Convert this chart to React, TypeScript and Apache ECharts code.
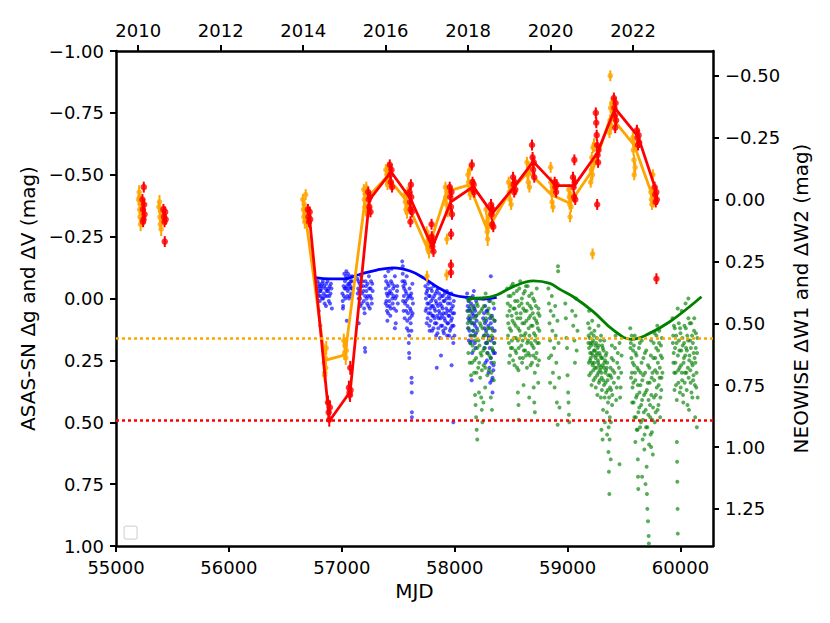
import React, { useEffect, useRef } from "react";
import * as echarts from "echarts";

// ---------- axis ticks ----------
const mjdTicks = [55000, 56000, 57000, 58000, 59000, 60000];
const yearTicks = [2010, 2012, 2014, 2016, 2018, 2020, 2022];
const leftTicks = [-1, -0.75, -0.5, -0.25, 0, 0.25, 0.5, 0.75, 1];
const rightTicks = [-0.5, -0.25, 0, 0.25, 0.5, 0.75, 1, 1.25];
const MJD_MIN = 55000;
const MJD_MAX = 60288;

// ---------- ASAS-SN points [MJD, mag, err] ----------
const orangePoints: number[][] = [
  [55200, -0.40, 0.022], [55205, -0.43, 0.028], [55210, -0.36, 0.022], [55212, -0.33, 0.022], [55216, -0.38, 0.022], [55218, -0.30, 0.028], [55222, -0.35, 0.022], [55226, -0.32, 0.022], [55208, -0.41, 0.022],
  [55380, -0.37, 0.022], [55385, -0.39, 0.028], [55389, -0.33, 0.022], [55393, -0.30, 0.022], [55396, -0.35, 0.022], [55400, -0.28, 0.028], [55404, -0.32, 0.022],
  [56655, -0.40, 0.022], [56660, -0.36, 0.022], [56664, -0.33, 0.022], [56668, -0.38, 0.022], [56672, -0.31, 0.028], [56676, -0.35, 0.022], [56680, -0.42, 0.022],
  [56840, 0.21, 0.028], [56845, 0.26, 0.028], [56848, 0.31, 0.028], [56850, 0.30, 0.028], [56854, 0.24, 0.028], [56858, 0.28, 0.028], [56862, 0.20, 0.028],
  [57018, 0.17, 0.028], [57024, 0.22, 0.028], [57030, 0.19, 0.028], [57035, 0.24, 0.028], [57040, 0.21, 0.028],
  [57195, -0.44, 0.022], [57200, -0.40, 0.022], [57205, -0.37, 0.022], [57209, -0.42, 0.022], [57213, -0.36, 0.028], [57217, -0.45, 0.022],
  [57390, -0.52, 0.022], [57395, -0.48, 0.022], [57400, -0.50, 0.022], [57405, -0.46, 0.022], [57410, -0.53, 0.022], [57414, -0.49, 0.022],
  [57558, -0.42, 0.022], [57563, -0.39, 0.022], [57568, -0.36, 0.022], [57573, -0.41, 0.022], [57578, -0.35, 0.028], [57582, -0.43, 0.022],
  [57752, -0.27, 0.022], [57757, -0.23, 0.022], [57762, -0.20, 0.022], [57767, -0.25, 0.022], [57772, -0.19, 0.028], [57776, -0.22, 0.022], [57755, -0.09, 0.022],
  [57918, -0.45, 0.022], [57923, -0.41, 0.022], [57928, -0.38, 0.022], [57933, -0.43, 0.022], [57938, -0.35, 0.022], [57931, -0.24, 0.022], [57929, -0.095, 0.022],
  [58118, -0.50, 0.022], [58123, -0.47, 0.022], [58128, -0.44, 0.022], [58133, -0.52, 0.022], [58138, -0.42, 0.022], [58142, -0.46, 0.022],
  [58278, -0.36, 0.022], [58283, -0.31, 0.028], [58288, -0.27, 0.028], [58292, -0.24, 0.028], [58296, -0.29, 0.022], [58300, -0.33, 0.022],
  [58478, -0.47, 0.022], [58484, -0.43, 0.022], [58490, -0.40, 0.022], [58495, -0.45, 0.022], [58500, -0.38, 0.022],
  [58640, -0.55, 0.022], [58646, -0.50, 0.022], [58652, -0.47, 0.022], [58657, -0.53, 0.022], [58662, -0.45, 0.022],
  [58850, -0.53, 0.022], [58852, -0.47, 0.022], [58857, -0.43, 0.022], [58862, -0.39, 0.022], [58866, -0.45, 0.022], [58870, -0.37, 0.022],
  [59010, -0.44, 0.022], [59015, -0.41, 0.022], [59020, -0.38, 0.022], [59025, -0.42, 0.022], [59030, -0.37, 0.022], [59022, -0.33, 0.022],
  [59205, -0.47, 0.022], [59210, -0.52, 0.022], [59215, -0.57, 0.022], [59220, -0.50, 0.022], [59225, -0.61, 0.022], [59230, -0.55, 0.022], [59234, -0.62, 0.028], [59221, -0.18, 0.022],
  [59371, -0.67, 0.022], [59376, -0.72, 0.022], [59381, -0.77, 0.022], [59386, -0.70, 0.022], [59391, -0.79, 0.022], [59395, -0.74, 0.022], [59378, -0.90, 0.022],
  [59578, -0.65, 0.022], [59583, -0.60, 0.022], [59588, -0.56, 0.022], [59593, -0.62, 0.022], [59598, -0.53, 0.022], [59590, -0.50, 0.022],
  [59738, -0.43, 0.022], [59743, -0.40, 0.022], [59748, -0.38, 0.022], [59753, -0.42, 0.022], [59758, -0.39, 0.022], [59755, -0.50, 0.022],
];

const redPoints: number[][] = [
  [55234, -0.40, 0.022], [55239, -0.36, 0.022], [55244, -0.32, 0.022], [55249, -0.38, 0.022], [55253, -0.34, 0.022], [55246, -0.45, 0.022], [55240, -0.31, 0.022],
  [55420, -0.36, 0.022], [55425, -0.33, 0.022], [55430, -0.31, 0.022], [55435, -0.35, 0.022], [55440, -0.32, 0.022], [55432, -0.23, 0.022],
  [56700, -0.36, 0.022], [56705, -0.33, 0.022], [56710, -0.31, 0.022], [56715, -0.35, 0.022], [56720, -0.32, 0.022],
  [56878, 0.42, 0.028], [56884, 0.46, 0.028], [56889, 0.49, 0.028], [56894, 0.44, 0.028],
  [57063, 0.36, 0.028], [57068, 0.38, 0.028], [57073, 0.39, 0.028], [57078, 0.37, 0.028], [57075, 0.28, 0.028],
  [57234, -0.43, 0.022], [57239, -0.40, 0.022], [57244, -0.37, 0.022], [57249, -0.41, 0.022], [57254, -0.35, 0.022],
  [57425, -0.54, 0.022], [57430, -0.50, 0.022], [57435, -0.47, 0.022], [57440, -0.52, 0.022], [57445, -0.45, 0.022],
  [57600, -0.43, 0.022], [57605, -0.39, 0.022], [57610, -0.36, 0.022], [57615, -0.41, 0.022], [57620, -0.35, 0.022], [57612, -0.46, 0.022], [57608, -0.31, 0.022],
  [57795, -0.30, 0.022], [57797, -0.25, 0.022], [57802, -0.21, 0.022], [57807, -0.23, 0.022], [57812, -0.19, 0.022],
  [57956, -0.45, 0.022], [57961, -0.41, 0.022], [57966, -0.37, 0.022], [57971, -0.43, 0.022], [57976, -0.34, 0.022], [57968, -0.26, 0.022], [57967, -0.135, 0.022], [57967, -0.105, 0.022],
  [58152, -0.54, 0.022], [58158, -0.47, 0.022], [58163, -0.44, 0.022], [58168, -0.46, 0.022], [58173, -0.43, 0.022],
  [58322, -0.38, 0.022], [58327, -0.34, 0.022], [58332, -0.30, 0.022], [58337, -0.36, 0.022], [58342, -0.29, 0.022],
  [58517, -0.49, 0.022], [58522, -0.46, 0.022], [58527, -0.43, 0.022], [58532, -0.47, 0.022], [58537, -0.44, 0.022],
  [58685, -0.62, 0.022], [58690, -0.57, 0.022], [58695, -0.52, 0.022], [58700, -0.55, 0.022], [58705, -0.49, 0.022],
  [58886, -0.47, 0.022], [58892, -0.45, 0.022], [58898, -0.43, 0.022], [58903, -0.46, 0.022],
  [59048, -0.49, 0.022], [59053, -0.45, 0.022], [59058, -0.41, 0.022], [59063, -0.47, 0.022], [59068, -0.40, 0.022], [59060, -0.56, 0.022],
  [59250, -0.75, 0.022], [59254, -0.71, 0.022], [59258, -0.66, 0.022], [59262, -0.62, 0.022], [59266, -0.58, 0.022], [59270, -0.55, 0.022], [59274, -0.60, 0.022], [59262, -0.38, 0.022],
  [59410, -0.81, 0.022], [59415, -0.77, 0.022], [59420, -0.74, 0.022], [59425, -0.79, 0.022], [59430, -0.72, 0.022], [59422, -0.69, 0.022],
  [59614, -0.68, 0.022], [59619, -0.65, 0.022], [59624, -0.62, 0.022], [59629, -0.66, 0.022], [59634, -0.63, 0.022],
  [59771, -0.45, 0.022], [59776, -0.42, 0.022], [59781, -0.39, 0.022], [59786, -0.43, 0.022], [59791, -0.40, 0.022], [59787, -0.08, 0.022],
];

// ---------- ASAS-SN seasonal trends [MJD, mag] ----------
const orangeTrend: number[][] = [
  [56670, -0.36], [56851, 0.25], [57029, 0.228], [57206, -0.398], [57401, -0.492], [57569, -0.398], [57764, -0.196],
  [57929, -0.432], [58129, -0.459], [58289, -0.277], [58490, -0.432], [58652, -0.512], [58859, -0.418], [59021, -0.385],
  [59221, -0.519], [59383, -0.735], [59590, -0.62], [59749, -0.418],
];
const redTrend: number[][] = [
  [56711, -0.34], [56890, 0.495], [57074, 0.377], [57244, -0.398], [57436, -0.512], [57611, -0.401], [57802, -0.208],
  [57967, -0.391], [58165, -0.452], [58333, -0.344], [58528, -0.452], [58696, -0.553], [58897, -0.456], [59059, -0.456],
  [59262, -0.587], [59421, -0.768], [59625, -0.654], [59782, -0.438],
];

// reference (quiescent) levels, left axis
const orangeLevel = 0.164;
const redLevel = 0.491;

// ---------- NEOWISE dots [MJD, mag] (right axis) ----------
const blueDots: number[][] = [
  [56785, 0.33], [56790, 0.36], [56795, 0.39], [56800, 0.34], [56805, 0.41], [56812, 0.37], [56818, 0.35], [56825, 0.40], [56832, 0.33], [56840, 0.38],
  [56848, 0.42], [56855, 0.36], [56862, 0.34], [56870, 0.39], [56878, 0.37], [56885, 0.41], [56892, 0.35], [56900, 0.38], [56908, 0.36], [56912, 0.44],
  [56796, 0.45], [56860, 0.43], [56810, 0.51],
  [56788, 0.38], [56798, 0.35], [56808, 0.37], [56815, 0.39], [56822, 0.36], [56828, 0.34], [56836, 0.40], [56844, 0.35], [56852, 0.39], [56866, 0.37],
  [56874, 0.33], [56882, 0.36], [56890, 0.39], [56896, 0.42], [56904, 0.34],
  [57005, 0.38], [57008, 0.41], [57010, 0.44], [57012, 0.43], [57015, 0.35], [57022, 0.30], [57028, 0.33], [57034, 0.36], [57040, 0.29], [57046, 0.32],
  [57052, 0.37], [57058, 0.34], [57064, 0.40], [57070, 0.31], [57076, 0.35], [57082, 0.38], [57088, 0.33], [57095, 0.36], [57044, 0.49],
  [57018, 0.39], [57025, 0.36], [57031, 0.40], [57037, 0.31], [57043, 0.35], [57049, 0.39], [57055, 0.30], [57061, 0.36], [57067, 0.34], [57073, 0.39],
  [57079, 0.33], [57085, 0.36], [57092, 0.31],
  [57138, 0.32], [57145, 0.36], [57150, 0.40], [57158, 0.34], [57165, 0.43], [57172, 0.31], [57180, 0.38], [57188, 0.35], [57195, 0.41], [57202, 0.46],
  [57210, 0.33], [57218, 0.37], [57225, 0.42], [57232, 0.39], [57240, 0.31], [57248, 0.44], [57255, 0.36], [57262, 0.40], [57270, 0.34], [57150, 0.50],
  [57205, 0.60], [57207, 0.615],
  [57141, 0.38], [57148, 0.33], [57155, 0.37], [57162, 0.40], [57168, 0.35], [57176, 0.42], [57184, 0.33], [57191, 0.37], [57198, 0.44], [57206, 0.39],
  [57214, 0.35], [57221, 0.40], [57229, 0.34], [57236, 0.43], [57244, 0.36], [57252, 0.39], [57259, 0.33], [57266, 0.42], [57273, 0.37],
  [57385, 0.31], [57390, 0.36], [57395, 0.41], [57400, 0.45], [57404, 0.49], [57408, 0.34], [57412, 0.29], [57418, 0.38], [57424, 0.43], [57430, 0.47],
  [57436, 0.33], [57442, 0.28], [57448, 0.40], [57455, 0.36], [57462, 0.44], [57470, 0.31], [57478, 0.50], [57485, 0.39], [57492, 0.35], [57470, 0.52],
  [57388, 0.42], [57393, 0.33], [57398, 0.38], [57402, 0.43], [57406, 0.39], [57410, 0.46], [57415, 0.35], [57421, 0.41], [57427, 0.37], [57433, 0.44],
  [57439, 0.38], [57445, 0.34], [57451, 0.42], [57458, 0.39], [57466, 0.35], [57474, 0.40], [57482, 0.45], [57489, 0.37], [57496, 0.42],
  [57535, 0.25], [57540, 0.30], [57545, 0.35], [57550, 0.39], [57555, 0.33], [57560, 0.42], [57565, 0.37], [57570, 0.45], [57575, 0.31], [57580, 0.49],
  [57585, 0.40], [57590, 0.53], [57593, 0.58], [57596, 0.62], [57598, 0.64], [57600, 0.36], [57605, 0.44], [57610, 0.50], [57615, 0.38], [57620, 0.47],
  [57625, 0.34], [57630, 0.42], [57540, 0.27], [57618, 0.72], [57619, 0.74], [57620, 0.78], [57621, 0.86], [57621, 0.88],
  [57537, 0.33], [57542, 0.41], [57547, 0.45], [57552, 0.36], [57557, 0.48], [57562, 0.34], [57567, 0.41], [57572, 0.38], [57577, 0.52], [57582, 0.43],
  [57587, 0.46], [57592, 0.39], [57597, 0.55], [57602, 0.48], [57607, 0.39], [57612, 0.45], [57617, 0.53], [57622, 0.40], [57627, 0.46],
  [57740, 0.35], [57745, 0.40], [57750, 0.44], [57755, 0.37], [57760, 0.48], [57765, 0.34], [57770, 0.42], [57775, 0.51], [57780, 0.39], [57785, 0.46],
  [57790, 0.36], [57795, 0.43], [57800, 0.53], [57805, 0.40], [57810, 0.47], [57815, 0.35], [57820, 0.44], [57825, 0.50], [57830, 0.38], [57835, 0.55],
  [57840, 0.42], [57845, 0.47], [57850, 0.36], [57855, 0.52], [57860, 0.45], [57865, 0.40], [57870, 0.56], [57875, 0.48], [57841, 0.68], [57885, 0.43],
  [57890, 0.51], [57895, 0.39], [57900, 0.46], [57905, 0.54], [57910, 0.41], [57915, 0.49], [57879, 0.63], [57925, 0.44], [57930, 0.37], [57935, 0.50],
  [57940, 0.42], [57945, 0.47], [57950, 0.55], [57955, 0.40], [57960, 0.45], [57965, 0.52], [57970, 0.38], [57975, 0.48], [57980, 0.56], [57985, 0.43],
  [57990, 0.51], [57995, 0.46], [57973, 0.67], [57988, 0.90],
  [57742, 0.45], [57748, 0.38], [57752, 0.50], [57758, 0.42], [57762, 0.36], [57768, 0.46], [57772, 0.39], [57778, 0.53], [57782, 0.44], [57788, 0.49],
  [57792, 0.41], [57798, 0.37], [57802, 0.47], [57808, 0.43], [57812, 0.52], [57818, 0.39], [57822, 0.48], [57828, 0.45], [57832, 0.41], [57838, 0.50],
  [57842, 0.37], [57848, 0.54], [57852, 0.43], [57858, 0.48], [57862, 0.38], [57868, 0.46], [57872, 0.42], [57878, 0.51], [57882, 0.39], [57888, 0.47],
  [57892, 0.44], [57898, 0.53], [57902, 0.41], [57908, 0.48], [57912, 0.38], [57918, 0.52], [57922, 0.46], [57928, 0.40], [57932, 0.55], [57938, 0.45],
  [57942, 0.50], [57948, 0.39], [57952, 0.47], [57958, 0.53], [57962, 0.42], [57968, 0.49], [57972, 0.44], [57978, 0.51], [57982, 0.46], [57988, 0.58],
  [57992, 0.41], [57998, 0.55],
  [58110, 0.38], [58115, 0.43], [58120, 0.48], [58125, 0.40], [58130, 0.53], [58135, 0.45], [58140, 0.58], [58145, 0.42], [58150, 0.50], [58155, 0.62],
  [58160, 0.39], [58165, 0.47], [58170, 0.55], [58175, 0.44], [58180, 0.51], [58185, 0.60], [58190, 0.41], [58195, 0.49], [58150, 0.73], [58125, 0.57],
  [58170, 0.37],
  [58112, 0.45], [58118, 0.52], [58122, 0.41], [58128, 0.49], [58132, 0.44], [58138, 0.55], [58142, 0.48], [58148, 0.40], [58152, 0.57], [58158, 0.46],
  [58162, 0.53], [58168, 0.43], [58172, 0.50], [58178, 0.58], [58182, 0.45], [58188, 0.54], [58192, 0.47], [58197, 0.52],
  [58255, 0.40], [58260, 0.46], [58265, 0.52], [58270, 0.43], [58275, 0.58], [58280, 0.49], [58285, 0.65], [58290, 0.45], [58295, 0.55], [58300, 0.70],
  [58305, 0.41], [58310, 0.60], [58315, 0.74], [58320, 0.50], [58325, 0.66], [58330, 0.47], [58335, 0.78], [58340, 0.56], [58345, 0.62], [58350, 0.44],
  [58355, 0.53], [58320, 0.31], [58335, 0.72], [58342, 0.69],
  [58252, 0.48], [58258, 0.55], [58262, 0.60], [58268, 0.50], [58272, 0.66], [58278, 0.53], [58282, 0.45], [58288, 0.58], [58292, 0.62], [58298, 0.51],
  [58302, 0.56], [58308, 0.68], [58312, 0.48], [58318, 0.64], [58322, 0.57], [58328, 0.73], [58332, 0.52], [58338, 0.61], [58344, 0.67], [58348, 0.58],
  [58352, 0.49], [58357, 0.62],
];

const greenDots: number[][] = [
  [58112, 0.40], [58118, 0.45], [58124, 0.52], [58130, 0.47], [58136, 0.58], [58142, 0.43], [58148, 0.55], [58154, 0.66], [58160, 0.50], [58166, 0.61],
  [58172, 0.70], [58178, 0.48], [58184, 0.57], [58190, 0.64], [58196, 0.42], [58202, 0.53], [58208, 0.68], [58214, 0.46], [58220, 0.59], [58226, 0.72],
  [58232, 0.51], [58238, 0.63], [58244, 0.44], [58250, 0.56], [58256, 0.67], [58262, 0.49], [58268, 0.60], [58274, 0.38], [58280, 0.54], [58286, 0.62],
  [58292, 0.46], [58298, 0.57], [58304, 0.69], [58310, 0.52], [58316, 0.41], [58322, 0.64], [58328, 0.55], [58334, 0.48], [58340, 0.61], [58346, 0.73],
  [58352, 0.58], [58180, 0.79], [58185, 0.83], [58190, 0.88], [58195, 0.93], [58200, 0.97], [58235, 0.80], [58240, 0.85], [58245, 0.90], [58255, 0.82],
  [58215, 0.78], [58270, 0.76], [58320, 0.80], [58330, 0.85],
  [58115, 0.50], [58121, 0.62], [58127, 0.41], [58133, 0.66], [58139, 0.49], [58145, 0.71], [58151, 0.45], [58157, 0.59], [58163, 0.53], [58169, 0.44],
  [58175, 0.65], [58181, 0.55], [58187, 0.47], [58193, 0.70], [58199, 0.60], [58205, 0.43], [58211, 0.57], [58217, 0.66], [58223, 0.50], [58229, 0.62],
  [58235, 0.45], [58241, 0.69], [58247, 0.52], [58253, 0.61], [58259, 0.43], [58265, 0.55], [58271, 0.68], [58277, 0.48], [58283, 0.58], [58289, 0.71],
  [58295, 0.52], [58301, 0.44], [58307, 0.63], [58313, 0.56], [58319, 0.47], [58325, 0.70], [58331, 0.60], [58337, 0.53], [58343, 0.42], [58349, 0.66],
  [58355, 0.49],
  [58465, 0.36], [58470, 0.42], [58475, 0.50], [58480, 0.58], [58485, 0.45], [58490, 0.63], [58495, 0.39], [58500, 0.53], [58505, 0.47], [58510, 0.60],
  [58515, 0.34], [58520, 0.44], [58525, 0.56], [58530, 0.67], [58535, 0.41], [58540, 0.51], [58545, 0.62], [58550, 0.37], [58555, 0.48], [58560, 0.57],
  [58565, 0.69], [58570, 0.43], [58575, 0.53], [58580, 0.33], [58585, 0.46], [58590, 0.59], [58595, 0.40], [58600, 0.50], [58605, 0.64], [58610, 0.38],
  [58615, 0.55], [58620, 0.45], [58625, 0.61], [58630, 0.35], [58635, 0.49], [58640, 0.68], [58645, 0.42], [58650, 0.57], [58655, 0.52], [58660, 0.39],
  [58665, 0.63], [58670, 0.47], [58675, 0.58], [58680, 0.44], [58685, 0.66], [58690, 0.51], [58695, 0.40], [58700, 0.60], [58705, 0.48], [58710, 0.70],
  [58715, 0.55], [58720, 0.43], [58725, 0.62], [58730, 0.50], [58735, 0.67], [58740, 0.46], [58745, 0.58], [58750, 0.53],
  [58560, 0.78], [58565, 0.83], [58568, 0.89], [58610, 0.75], [58660, 0.80], [58700, 0.76], [58705, 0.82], [58710, 0.86], [58740, 0.74],
  [58467, 0.47], [58472, 0.55], [58477, 0.39], [58482, 0.66], [58487, 0.52], [58492, 0.43], [58497, 0.60], [58502, 0.35], [58507, 0.57], [58512, 0.49],
  [58517, 0.65], [58522, 0.38], [58527, 0.50], [58532, 0.44], [58537, 0.61], [58542, 0.56], [58547, 0.46], [58552, 0.68], [58557, 0.41], [58562, 0.52],
  [58567, 0.60], [58572, 0.36], [58577, 0.64], [58582, 0.48], [58587, 0.55], [58592, 0.42], [58597, 0.66], [58602, 0.57], [58607, 0.44], [58612, 0.61],
  [58617, 0.50], [58622, 0.37], [58627, 0.54], [58632, 0.63], [58637, 0.45], [58642, 0.58], [58647, 0.35], [58652, 0.62], [58657, 0.48], [58662, 0.55],
  [58667, 0.43], [58672, 0.67], [58677, 0.51], [58682, 0.38], [58687, 0.59], [58692, 0.46], [58697, 0.63], [58702, 0.54], [58707, 0.41], [58712, 0.57],
  [58717, 0.64], [58722, 0.49], [58727, 0.36], [58732, 0.58], [58737, 0.52], [58742, 0.44], [58747, 0.65], [58752, 0.47],
  [58830, 0.36], [58835, 0.42], [58840, 0.50], [58845, 0.57], [58850, 0.45], [58855, 0.63], [58860, 0.39], [58865, 0.53], [58870, 0.70], [58875, 0.47],
  [58880, 0.60], [58885, 0.76], [58890, 0.43], [58895, 0.55], [58900, 0.66], [58905, 0.82], [58910, 0.49], [58915, 0.27], [58916, 0.29], [58920, 0.58],
  [58925, 0.72], [58928, 0.84], [58912, 0.91], [58845, 0.74], [58835, 0.64],
  [58980, 0.42], [58985, 0.48], [58990, 0.56], [58995, 0.60], [59000, 0.71], [59005, 0.78], [59008, 0.82], [59012, 0.87], [59015, 0.90], [59040, 0.45],
  [59050, 0.51], [59060, 0.57], [59070, 0.47], [59080, 0.61], [59088, 0.53], [59075, 0.40], [59065, 0.66],
  [59182, 0.50], [59186, 0.55], [59190, 0.60], [59194, 0.52], [59198, 0.65], [59202, 0.58], [59206, 0.70], [59210, 0.54], [59214, 0.62], [59218, 0.49],
  [59222, 0.67], [59226, 0.57], [59230, 0.73], [59234, 0.61], [59238, 0.53], [59242, 0.68], [59246, 0.59], [59250, 0.76], [59254, 0.63], [59258, 0.56],
  [59262, 0.71], [59266, 0.60], [59270, 0.66], [59274, 0.51], [59278, 0.74], [59282, 0.62], [59286, 0.69], [59290, 0.57], [59294, 0.80], [59298, 0.64],
  [59302, 0.72], [59306, 0.59], [59310, 0.67], [59314, 0.85], [59318, 0.61], [59322, 0.75], [59326, 0.66], [59330, 0.90], [59334, 0.70], [59338, 0.63],
  [59342, 0.78], [59346, 0.68], [59350, 0.95], [59354, 0.73], [59358, 0.82], [59362, 1.02], [59366, 1.10], [59370, 1.19], [59374, 0.88], [59378, 0.71],
  [59382, 1.05], [59386, 0.77], [59390, 0.64], [59394, 0.83], [59400, 0.69], [59410, 0.74], [59420, 0.60], [59430, 0.81], [59440, 0.66], [59450, 0.72],
  [59460, 0.58], [59470, 0.76], [59478, 0.63], [59190, 0.45], [59460, 1.07], [59300, 0.93], [59310, 0.97],
  [59184, 0.58], [59188, 0.66], [59192, 0.71], [59196, 0.56], [59200, 0.62], [59204, 0.64], [59208, 0.59], [59212, 0.75], [59216, 0.66], [59220, 0.58],
  [59224, 0.63], [59228, 0.69], [59232, 0.55], [59236, 0.66], [59240, 0.61], [59244, 0.72], [59248, 0.64], [59252, 0.58], [59256, 0.68], [59260, 0.62],
  [59264, 0.79], [59268, 0.65], [59272, 0.70], [59276, 0.59], [59280, 0.67], [59284, 0.73], [59288, 0.63], [59292, 0.68], [59296, 0.55], [59300, 0.70],
  [59304, 0.77], [59308, 0.64], [59312, 0.60], [59316, 0.73], [59320, 0.68], [59324, 0.57], [59328, 0.80], [59332, 0.65], [59336, 0.74], [59340, 0.69],
  [59344, 0.62], [59348, 0.86], [59352, 0.66], [59356, 0.77], [59360, 0.71], [59364, 0.92], [59368, 0.80], [59372, 0.97], [59376, 0.76], [59380, 0.68],
  [59384, 0.90], [59388, 0.72], [59392, 0.59], [59396, 0.79], [59405, 0.65], [59415, 0.70], [59425, 0.55], [59435, 0.76], [59445, 0.62], [59455, 0.68],
  [59465, 0.80], [59475, 0.70],
  [59555, 0.52], [59560, 0.58], [59565, 0.64], [59570, 0.70], [59575, 0.76], [59580, 0.61], [59585, 0.82], [59590, 0.67], [59595, 0.55], [59600, 0.73],
  [59605, 0.88], [59610, 0.63], [59615, 0.79], [59620, 0.93], [59622, 1.05], [59624, 1.12], [59626, 1.17], [59630, 0.69], [59635, 0.84], [59640, 0.58],
  [59645, 0.75], [59650, 0.90], [59655, 0.66], [59660, 0.81], [59665, 0.97], [59670, 0.71], [59675, 0.86], [59680, 1.01], [59685, 0.62], [59690, 0.78],
  [59695, 0.92], [59700, 1.08], [59703, 1.19], [59706, 1.25], [59710, 0.74], [59712, 1.30], [59715, 0.87], [59718, 1.36], [59720, 1.39], [59725, 0.68],
  [59730, 0.83], [59735, 0.95], [59740, 0.57], [59745, 0.72], [59750, 0.89], [59755, 1.03], [59760, 0.64], [59765, 0.80], [59770, 0.54], [59775, 0.69],
  [59780, 0.86], [59785, 0.60], [59790, 0.76], [59795, 0.51], [59800, 0.66], [59805, 0.83], [59810, 0.58], [59815, 0.72], [59820, 0.88], [59825, 0.63],
  [59830, 0.77], [59835, 0.56], [59840, 0.70], [59600, 0.98], [59660, 1.12], [59690, 1.15], [59740, 1.00],
  [59557, 0.60], [59562, 0.72], [59567, 0.55], [59572, 0.82], [59577, 0.66], [59582, 0.74], [59587, 0.59], [59592, 0.88], [59597, 0.70], [59602, 0.62],
  [59607, 0.80], [59612, 0.93], [59617, 0.68], [59622, 0.75], [59627, 0.86], [59632, 0.60], [59637, 0.78], [59642, 0.92], [59647, 0.70], [59652, 0.83],
  [59657, 0.57], [59662, 0.73], [59667, 0.89], [59672, 0.64], [59677, 0.79], [59682, 0.95], [59687, 0.70], [59692, 0.85], [59697, 0.61], [59702, 0.77],
  [59707, 0.92], [59712, 0.67], [59717, 0.81], [59722, 0.99], [59727, 0.74], [59732, 0.88], [59737, 0.63], [59742, 0.79], [59747, 0.94], [59752, 0.70],
  [59757, 0.84], [59762, 0.58], [59767, 0.73], [59772, 0.90], [59777, 0.64], [59782, 0.79], [59787, 0.55], [59792, 0.70], [59797, 0.85], [59802, 0.61],
  [59807, 0.75], [59812, 0.53], [59817, 0.68], [59822, 0.80], [59827, 0.59], [59832, 0.72], [59837, 0.64],
  [59930, 0.48], [59935, 0.55], [59940, 0.62], [59945, 0.70], [59950, 0.52], [59955, 0.66], [59960, 0.75], [59965, 0.58], [59968, 0.98], [59970, 1.06],
  [59972, 1.14], [59974, 1.25], [59976, 1.35], [59980, 0.69], [59985, 0.50], [59990, 0.61], [59995, 0.78], [60000, 0.54], [60005, 0.67], [60010, 0.45],
  [60015, 0.73], [60020, 0.59], [60025, 0.82], [60030, 0.64], [60035, 0.51], [60040, 0.70], [60045, 0.42], [60050, 0.60], [60055, 0.77], [60060, 0.55],
  [60065, 0.68], [60070, 0.48], [60075, 0.85], [60080, 0.63], [60085, 0.57], [60090, 0.74], [60095, 0.50], [60100, 0.66], [60105, 0.80], [60110, 0.58],
  [60115, 0.71], [60120, 0.53], [60125, 0.64], [60130, 0.88], [60135, 0.60], [60140, 0.76], [60145, 0.92], [60150, 0.56], [59975, 0.44], [60070, 0.40],
  [59932, 0.58], [59937, 0.66], [59942, 0.51], [59947, 0.77], [59952, 0.60], [59957, 0.70], [59962, 0.55], [59967, 0.81], [59977, 0.63], [59982, 0.74],
  [59987, 0.57], [59992, 0.68], [59997, 0.52], [60002, 0.76], [60007, 0.61], [60012, 0.70], [60017, 0.56], [60022, 0.79], [60027, 0.66], [60032, 0.58],
  [60037, 0.74], [60042, 0.63], [60047, 0.52], [60052, 0.70], [60057, 0.61], [60062, 0.83], [60067, 0.57], [60072, 0.72], [60077, 0.65], [60082, 0.50],
  [60087, 0.69], [60092, 0.60], [60097, 0.78], [60102, 0.55], [60107, 0.67], [60112, 0.73], [60117, 0.62], [60122, 0.48], [60127, 0.75], [60132, 0.66],
  [60137, 0.54], [60142, 0.70], [60147, 0.62], [60152, 0.80],
];

// ---------- NEOWISE fitted curves [MJD, mag] ----------
const blueFit: number[][] = [
  [56763, 0.316], [56897, 0.321], [57014, 0.321], [57162, 0.302], [57310, 0.285], [57457, 0.276], [57605, 0.289],
  [57722, 0.316], [57841, 0.352], [57988, 0.386], [58135, 0.397], [58253, 0.402], [58372, 0.395],
];
const greenFit: number[][] = [
  [58110, 0.400], [58250, 0.398], [58372, 0.386], [58519, 0.352], [58696, 0.329], [58843, 0.339], [58932, 0.363],
  [59050, 0.393], [59227, 0.453], [59404, 0.527], [59566, 0.565], [59699, 0.547], [59905, 0.494], [60186, 0.393],
];

const FONT = "DejaVu Sans";
const fmt = (v: number) => (v < 0 ? "\u2212" : "") + Math.abs(v).toFixed(2);
const yearOf = (mjd: number) => 2000 + (mjd - 51544.5) / 365.25;

function errorBars(points: number[][], color: string, width: number, z: number) {
  return {
    type: "custom",
    xAxisIndex: 0,
    yAxisIndex: 0,
    data: points,
    encode: { x: 0, y: 1 },
    z,
    silent: true,
    renderItem: (_params: any, api: any) => {
      const x = api.value(0);
      const y = api.value(1);
      const e = api.value(2);
      const p1 = api.coord([x, y - e]);
      const p2 = api.coord([x, y + e]);
      return {
        type: "line",
        shape: { x1: p1[0], y1: p1[1], x2: p2[0], y2: p2[1] },
        style: { stroke: color, lineWidth: width },
      };
    },
  };
}

const axisCommon = {
  axisLine: { show: true, onZero: false, lineStyle: { color: "#000", width: 2.5 } },
  axisTick: { show: true, inside: false, length: 6, lineStyle: { color: "#000", width: 2 } },
  splitLine: { show: false },
};
const tickLabel = { margin: 12, fontSize: 18, color: "#000", fontFamily: FONT };
const nameStyle = { fontSize: 20, color: "#000", fontFamily: FONT };

export default function App() {
  const ref = useRef<HTMLDivElement>(null);
  useEffect(() => {
    if (!ref.current) return;
    const chart = echarts.init(ref.current, null, { renderer: "svg" });
    const option: any = {
      animation: false,
      backgroundColor: "#ffffff",
      textStyle: { fontFamily: FONT },
      grid: { left: 116, top: 51, width: 597, height: 495, containLabel: false },
      xAxis: [
        {
          type: "value",
          position: "bottom",
          min: MJD_MIN,
          max: MJD_MAX,
          ...axisCommon,
          axisTick: { ...axisCommon.axisTick, customValues: mjdTicks },
          axisLabel: { ...tickLabel, customValues: mjdTicks, formatter: (v: number) => String(Math.round(v)) },
          name: "MJD",
          nameLocation: "middle",
          nameGap: 35,
          nameTextStyle: nameStyle,
        },
        {
          type: "value",
          position: "top",
          min: yearOf(MJD_MIN),
          max: yearOf(MJD_MAX),
          ...axisCommon,
          axisTick: { ...axisCommon.axisTick, customValues: yearTicks },
          axisLabel: { ...tickLabel, customValues: yearTicks, formatter: (v: number) => String(Math.round(v)) },
        },
      ],
      yAxis: [
        {
          type: "value",
          position: "left",
          inverse: true,
          min: -1,
          max: 1,
          ...axisCommon,
          axisTick: { ...axisCommon.axisTick, customValues: leftTicks },
          axisLabel: { ...tickLabel, customValues: leftTicks, formatter: fmt },
          name: "ASAS-SN \u0394g and \u0394V (mag)",
          nameLocation: "middle",
          nameGap: 75,
          nameRotate: 90,
          nameTextStyle: nameStyle,
        },
        {
          type: "value",
          position: "right",
          inverse: true,
          min: -0.6,
          max: 1.4,
          ...axisCommon,
          axisTick: { ...axisCommon.axisTick, customValues: rightTicks },
          axisLabel: { ...tickLabel, customValues: rightTicks, formatter: fmt },
          name: "NEOWISE \u0394W1 and \u0394W2 (mag)",
          nameLocation: "middle",
          nameGap: 72,
          nameRotate: 90,
          nameTextStyle: nameStyle,
        },
      ],
      series: [
        {
          type: "scatter",
          xAxisIndex: 0,
          yAxisIndex: 1,
          data: blueDots,
          symbolSize: 4,
          itemStyle: { color: "#0000ff", opacity: 0.65 },
          silent: true,
          z: 1,
        },
        {
          type: "scatter",
          xAxisIndex: 0,
          yAxisIndex: 1,
          data: greenDots,
          symbolSize: 4,
          itemStyle: { color: "#008000", opacity: 0.65 },
          silent: true,
          z: 1,
        },
        {
          type: "line",
          xAxisIndex: 0,
          yAxisIndex: 1,
          data: blueFit,
          smooth: 0.4,
          showSymbol: false,
          lineStyle: { color: "#0000ff", width: 2.8 },
          z: 2,
        },
        {
          type: "line",
          xAxisIndex: 0,
          yAxisIndex: 1,
          data: greenFit,
          smooth: 0.4,
          showSymbol: false,
          lineStyle: { color: "#008000", width: 2.8 },
          z: 2,
        },
        errorBars(orangePoints, "#ffa500", 2, 3),
        {
          type: "scatter",
          xAxisIndex: 0,
          yAxisIndex: 0,
          data: orangePoints.map((p) => [p[0], p[1]]),
          symbolSize: 5.5,
          itemStyle: { color: "#ffa500" },
          z: 3,
        },
        {
          type: "line",
          xAxisIndex: 0,
          yAxisIndex: 0,
          data: orangeTrend,
          showSymbol: false,
          lineStyle: { color: "#ffa500", width: 2.8 },
          z: 3,
        },
        errorBars(redPoints, "#ff0000", 2, 4),
        {
          type: "scatter",
          xAxisIndex: 0,
          yAxisIndex: 0,
          data: redPoints.map((p) => [p[0], p[1]]),
          symbolSize: 6.5,
          itemStyle: { color: "#ff0000" },
          z: 4,
        },
        {
          type: "line",
          xAxisIndex: 0,
          yAxisIndex: 0,
          data: redTrend,
          showSymbol: false,
          lineStyle: { color: "#ff0000", width: 2.8 },
          z: 4,
          markLine: {
            silent: true,
            symbol: ["none", "none"],
            label: { show: false },
            data: [
              { yAxis: orangeLevel, lineStyle: { color: "#ffa500", type: [3, 3], width: 2.5 } },
              { yAxis: redLevel, lineStyle: { color: "#ff0000", type: [3, 3], width: 2.5 } },
            ],
          },
        },
      ],
      graphic: [
        {
          type: "rect",
          left: 123.5,
          top: 525.5,
          shape: { width: 13, height: 13, r: 2 },
          style: { fill: "#ffffff", stroke: "#d6d6d6", lineWidth: 1.2 },
          z: 10,
        },
      ],
    };
    chart.setOption(option);
    return () => chart.dispose();
  }, []);
  return (
    <div
      ref={ref}
      style={{ position: "fixed", left: 0, top: 0, width: 830, height: 623, background: "#fff" }}
    />
  );
}
